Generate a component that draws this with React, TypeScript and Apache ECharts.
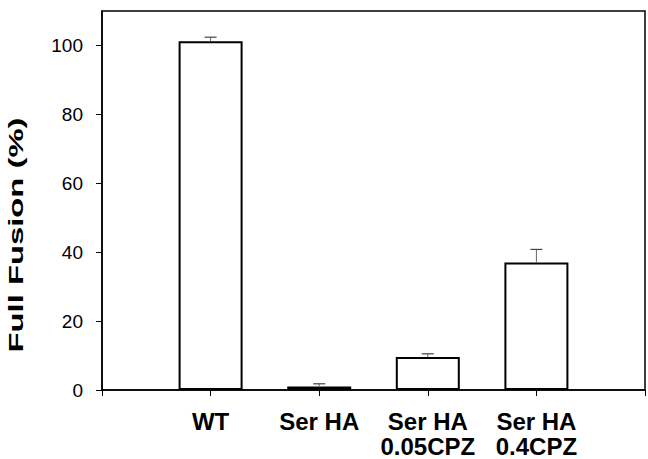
import React, { useEffect, useRef } from "react";
import * as echarts from "echarts";

const categories = ["WT", "Ser HA", "Ser HA\n0.05CPZ", "Ser HA\n0.4CPZ"];
const fusionValues = [101.2, 1.0, 9.6, 37.0];
const errorValues = [1.2, 0.8, 0.9, 3.8];
const yTicks = [0, 20, 40, 60, 80, 100];
const yTitle = "Full Fusion (%)";

const FONT = "'Liberation Sans', Arial, Helvetica, sans-serif";

export default function App() {
  const ref = useRef<HTMLDivElement>(null);
  useEffect(() => {
    if (!ref.current) return;
    const chart = echarts.init(ref.current, null, { renderer: "svg" });
    const axisData = ["", ...categories, ""];
    const option: any = {
      animation: false,
      backgroundColor: "#fff",
      grid: {
        left: 102,
        right: 1,
        top: 11,
        bottom: 67,
        show: true,
        borderColor: "#000",
        borderWidth: 1.5,
        backgroundColor: "transparent",
      },
      xAxis: {
        type: "category",
        data: axisData,
        boundaryGap: false,
        axisLine: { lineStyle: { color: "#000", width: 1.5 } },
        axisTick: { show: true, length: 6, lineStyle: { color: "#000", width: 1 } },
        axisLabel: {
          interval: 0,
          margin: 19,
          color: "#000",
          fontFamily: FONT,
          fontWeight: "bold",
          fontSize: 24,
          lineHeight: 25,
        },
        splitLine: { show: false },
      },
      yAxis: {
        type: "value",
        min: 0,
        max: 110,
        interval: 20,
        axisLine: { show: true, lineStyle: { color: "#000", width: 1.5 } },
        axisTick: { show: true, length: 6, customValues: yTicks, lineStyle: { color: "#000", width: 1 } },
        axisLabel: {
          customValues: yTicks,
          margin: 19,
          color: "#000",
          fontFamily: FONT,
          fontSize: 19,
          formatter: (v: number) => (v > 100 ? "" : String(v)),
        },
        splitLine: { show: false },
      },
      graphic: [
        {
          type: "text",
          x: 16,
          y: 235,
          rotation: Math.PI / 2,
          scaleX: 1.64,
          scaleY: 1,
          style: {
            text: yTitle,
            fill: "#000",
            font: `bold 20px ${FONT}`,
            align: "center",
            verticalAlign: "middle",
          },
        },
      ],
      series: [
        {
          type: "bar",
          data: fusionValues.map((v, i) => [i + 1, v]),
          barWidth: 64,
          itemStyle: { color: "#fff", borderColor: "#000", borderWidth: 2 },
          z: 2,
        },
        {
          type: "custom",
          data: fusionValues.map((v, i) => [i + 1, v, errorValues[i]]),
          encode: { x: 0, y: 1 },
          z: 3,
          renderItem: (params: any, api: any) => {
            const x = api.value(0);
            const v = api.value(1);
            const e = api.value(2);
            const base = api.coord([x, v]);
            const top = api.coord([x, v + e]);
            return {
              type: "group",
              children: [
                {
                  type: "line",
                  shape: { x1: base[0], y1: base[1], x2: top[0], y2: top[1] },
                  style: { stroke: "#666", lineWidth: 1 },
                },
                {
                  type: "line",
                  shape: { x1: top[0] - 6, y1: top[1], x2: top[0] + 6, y2: top[1] },
                  style: { stroke: "#444", lineWidth: 1.2 },
                },
              ],
            };
          },
        },
      ],
    };
    chart.setOption(option);
    return () => chart.dispose();
  }, []);
  return (
    <div
      ref={ref}
      style={{ position: "fixed", left: 0, top: 0, width: 648, height: 459, background: "#fff" }}
    />
  );
}
